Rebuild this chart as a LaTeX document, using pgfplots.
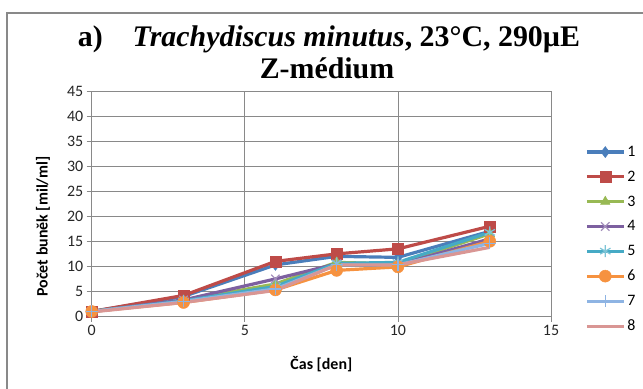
\documentclass[border=0pt]{standalone}
\usepackage{pgfplots}
\pgfplotsset{compat=1.18}
\usepackage{fontspec}
\setmainfont{Liberation Serif}
\newfontfamily\calibri{Carlito}
\definecolor{c1}{HTML}{4A7EBB}
\definecolor{c2}{HTML}{BE4B48}
\definecolor{c3}{HTML}{98B954}
\definecolor{c4}{HTML}{7D60A0}
\definecolor{c5}{HTML}{46AAC5}
\definecolor{c6}{HTML}{F69240}
\definecolor{c7}{HTML}{8EB4E3}
\definecolor{c8}{HTML}{D99694}
\definecolor{gridc}{HTML}{898989}
\begin{document}
\begin{tikzpicture}
\path[use as bounding box] (0bp,0bp) rectangle (643bp,389bp);
\draw[gridc, line width=1.5bp] (7bp,0bp) -- (7bp,376bp) -- (643bp,376bp);
\node[font=\bfseries\fontsize{30}{30}\selectfont, anchor=base] at (329bp,342bp) {a)\quad\textit{Trachydiscus minutus}, 23°C, 290µE};
\node[font=\bfseries\fontsize{30}{30}\selectfont, anchor=base] at (327bp,310bp) {Z-médium};
\begin{axis}[
  at={(91.7bp,72.5bp)}, anchor=south west,
  scale only axis, width=459.3bp, height=225.5bp,
  xmin=0, xmax=15, ymin=0, ymax=45,
  xtick={0,5,10,15}, ytick={0,5,...,45},
  grid=major,
  major grid style={gridc, line width=0.8bp},
  axis line style={gridc, line width=0.8bp},
  tick style={gridc, line width=0.8bp},
  major tick length=5bp,
  tick align=outside,
  xtick pos=bottom, ytick pos=left,
  /pgf/number format/assume math mode=true,
  tick label style={font=\calibri\fontsize{16}{16}\selectfont, text=black!85},
  xlabel={Čas [den]},
  ylabel={Počet buněk [mil/ml]},
  label style={font=\calibri\bfseries\fontsize{16}{16}\selectfont},
  xlabel style={at={(axis description cs:0.5,-0.21)}, anchor=center},
  ylabel style={at={(axis description cs:-0.106,0.40)}, anchor=center},
  every axis plot/.append style={line width=3.2bp},
  legend style={draw=none, fill=none, at={(1.074,1.0)}, anchor=north west,
    font=\calibri\fontsize{16}{16}\selectfont, row sep=9bp, inner sep=0pt,
    yshift=-53bp},
  legend cell align=left,
  legend image code/.code={\draw[mark repeat=2,mark phase=2,#1] plot coordinates {(0bp,0bp)(18.5bp,0bp)(37bp,0bp)};},
]
\addplot[c1, mark=diamond*, mark size=5.5bp, mark options={solid, line width=0.5bp}] coordinates {(0,1)(3,4)(6,10.3)(8,12)(10,11.8)(13,17)};
\addplot[c2, mark=square*, mark size=5.5bp, mark options={line width=0.5bp}] coordinates {(0,1)(3,4.2)(6,11)(8,12.5)(10,13.5)(13,18)};
\addplot[c3, mark=triangle*, mark size=5.5bp, mark options={line width=0.5bp}] coordinates {(0,1)(3,3.2)(6,6.5)(8,10.8)(10,10.5)(13,16.5)};
\addplot[c4, mark=x, mark size=6bp, mark options={line width=1.2bp, c4!70}] coordinates {(0,1)(3,3.3)(6,7.5)(8,10.5)(10,10.3)(13,15.5)};
\addplot[c5, mark=asterisk, mark size=6bp, mark options={line width=1.2bp, c5!70}] coordinates {(0,1)(3,3.1)(6,6)(8,10.6)(10,10.8)(13,16.8)};
\addplot[c6, mark=*, mark size=6bp, mark options={line width=0.5bp}] coordinates {(0,1)(3,2.8)(6,5.3)(8,9.2)(10,9.9)(13,15)};
\addplot[c7, mark=+, mark size=6bp, mark options={line width=1.2bp}] coordinates {(0,1)(3,3.0)(6,5.5)(8,10.3)(10,10.3)(13,14.6)};
\addplot[c8, mark=none] coordinates {(0,0.9)(3,2.8)(6,5.2)(8,10.3)(10,10.3)(13,13.8)};
\legend{1,2,3,4,5,6,7,8}
\end{axis}
\end{tikzpicture}
\end{document}
